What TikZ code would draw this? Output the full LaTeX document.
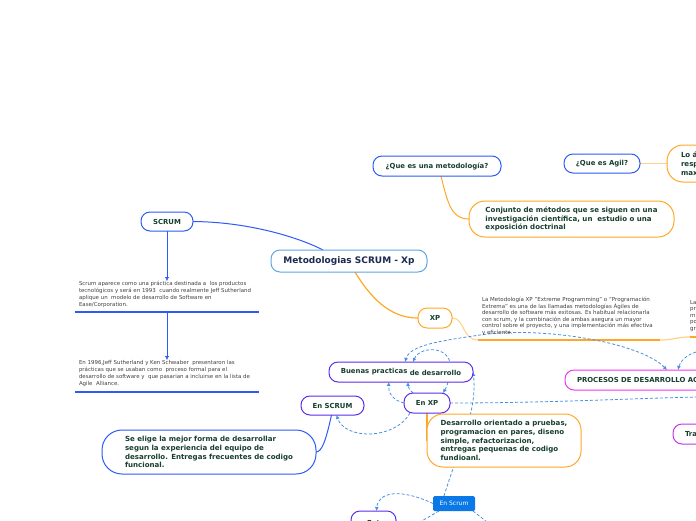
\documentclass[tikz,border=0pt]{standalone}
\usepackage{fontspec}
\setmainfont{DejaVu Sans}
\usetikzlibrary{arrows.meta,backgrounds}
\definecolor{mapblue}{HTML}{2D5BF5}
\definecolor{rootblue}{HTML}{5AA6E6}
\definecolor{maporange}{HTML}{FFA726}
\definecolor{lightorange}{HTML}{FFD08A}
\definecolor{mapviolet}{HTML}{5B2EEB}
\definecolor{mapmagenta}{HTML}{F035F0}
\definecolor{dashblue}{HTML}{4A90E2}
\definecolor{inkgreen}{HTML}{173F2E}
\definecolor{inknavy}{HTML}{1B2B50}
\definecolor{scrumfill}{HTML}{0A78E6}
\begin{document}
\begin{tikzpicture}[x=1pt,y=-1pt,
  every node/.style={inner sep=0pt,outer sep=0pt},
  topic/.style={draw,fill=white,line width=1pt,rounded corners=9pt,text=inkgreen,
    font=\bfseries\fontsize{6.9}{8.8}\selectfont},
  bigtopic/.style={topic,rounded corners=16pt,align=left,font=\bfseries\fontsize{7.05}{8.8}\selectfont},
  note/.style={anchor=north west,align=left,text=black!75,font=\fontsize{5.45}{7.2}\selectfont},
  link/.style={dashblue,line width=0.8pt,dash pattern=on 3pt off 2pt},
  >={Latex[length=4pt,width=4pt]}]
\useasboundingbox (0,0) rectangle (696,520);
\clip (0,0) rectangle (696,520);

% main topics
\node[topic,draw=rootblue,minimum width=156pt,minimum height=22pt,text=inknavy,
  font=\bfseries\fontsize{9}{10}\selectfont] (root) at (349,261) {Metodologias SCRUM - Xp};
\node[topic,draw=mapblue,minimum width=128pt,minimum height=20pt] (metod) at (437,166) {¿Que es una metodología?};
\node[topic,draw=mapblue,minimum width=76pt,minimum height=19pt] (agil) at (602,163.5) {¿Que es Agil?};
\node[bigtopic,draw=maporange,anchor=west,minimum width=80pt,minimum height=37pt,text width=52pt] (agildef) at (667,163.5) {Lo á\\resp\\max};
\node[bigtopic,draw=maporange,minimum width=205pt,minimum height=36pt] (conj) at (571.5,219)
  {Conjunto de métodos que se siguen en una\\investigación científica, un\ \ estudio o una\\exposición doctrinal};

% scrum history
\node[topic,draw=mapblue,minimum width=52pt,minimum height=19pt] (scrum) at (167,221.5) {SCRUM};
\node[note] (hist1) at (79,281) {Scrum aparece como una práctica destinada a\ \ los productos\\tecnológicos y será en 1993\ \ cuando realmente Jeff Sutherland\\aplique un\ \ modelo de desarrollo de Software en\\Ease/Corporation.};
\node[note] (hist2) at (79,360) {En 1996,Jeff Sutherland y Ken Schwaber\ \ presentaron las\\prácticas que se usaban como\ \ proceso formal para el\\desarrollo de software y\ \ que pasarian a incluirse en la lista de\\Agile\ \ Alliance.};
\coordinate (hist1top) at (167,281);
\coordinate (hist1bot) at (167,313);
\coordinate (hist2top) at (167,360);

% xp
\node[topic,draw=maporange,minimum width=34pt,minimum height=20pt] (xp) at (435,318) {XP};
\node[note,font=\fontsize{5.5}{6.6}\selectfont] (xpdef) at (482,297) {La Metodología XP "Extreme Programming" o "Programación\\Extrema" es una de las llamadas metodologías Ágiles de\\desarrollo de software más exitosas. Es habitual relacionarla\\con scrum, y la combinación de ambas asegura un mayor\\control sobre el proyecto, y una implementación más efectiva\\y eficiente.};
\node[note,font=\fontsize{5.5}{6.6}\selectfont] (procdef) at (690,300) {La\\pr\\m\\po\\gr};
\coordinate (xpa) at (478,340);
\coordinate (xpb) at (660,340);
\coordinate (xpc) at (690,337);
\coordinate (xpd) at (700,337);

% buenas practicas
\node[topic,draw=mapviolet,minimum width=144pt,minimum height=20pt] (buenas) at (401,372) {Buenas practicas \raisebox{-1.2pt}{de desarrollo}};
\node[topic,draw=mapviolet,minimum width=46pt,minimum height=20pt] (enxp) at (427,403) {En XP};
\node[topic,draw=mapviolet,minimum width=63pt,minimum height=19pt] (enscrum) at (332.5,405.5) {En SCRUM};
\node[bigtopic,draw=mapblue,minimum width=214pt,minimum height=44pt,rounded corners=20pt] (elige) at (209,452)
  {Se elige la mejor forma de desarrollar\\segun la experiencia del equipo de\\desarrollo. Entregas frecuentes de codigo\\funcional.};
\node[bigtopic,draw=maporange,minimum width=154pt,minimum height=53pt] (tdd) at (504,440.5)
  {Desarrollo orientado a pruebas,\\programacion en pares, diseno\\simple, refactorizacion,\\entregas pequenas de codigo\\fundioanl.};
\node[topic,draw=mapmagenta,anchor=west,minimum width=200pt,minimum height=20pt,text width=176pt,align=left] (procesos) at (565,380) {PROCESOS DE DESARROLLO AGILES};
\node[topic,draw=mapmagenta!70!mapviolet,anchor=west,minimum width=60pt,minimum height=20pt,text width=36pt,align=left] (trad) at (673,434) {Tra};
\node[fill=scrumfill,text=white,rounded corners=1.5pt,minimum width=42pt,minimum height=15pt,
  font=\fontsize{6}{7}\selectfont] (enscrumb) at (454,503.5) {En Scrum};
\node[topic,draw=mapviolet,anchor=north west,minimum width=45pt,minimum height=24pt] (entb) at (351,511) {Ent};

\begin{pgfonlayer}{background}
% solid branches
\draw[mapblue,line width=1pt] (scrum.east) .. controls (250,222) and (300,238) .. ([xshift=-26pt]root.north);
\draw[maporange,line width=1pt] ([xshift=4pt]metod.south) .. controls (448,205) and (452,219) .. (conj.west);
\draw[lightorange,line width=1.5pt] (agil.east) -- (agildef.west);
\draw[maporange,line width=1.2pt] ([xshift=6pt]root.south) .. controls (375,305) and (395,318) .. (xp.west);
\draw[lightorange,line width=1pt] (xp.east) .. controls (465,318) and (462,340) .. (xpa);
\draw[maporange,line width=2pt] (xpa) -- (xpb);
\draw[lightorange,line width=1.2pt] (xpb) .. controls (675,340) and (675,337) .. (xpc);
\draw[maporange,line width=2pt] (xpc) -- (xpd);
\draw[mapblue,->] (scrum.south) -- (hist1top);
\draw[mapblue,line width=1.6pt] (75,312) -- (259,312);
\draw[mapblue,->] (hist1bot) -- (hist2top);
\draw[mapblue,line width=1.6pt] (75,392) -- (259,392);
\draw[mapblue,line width=1pt] ([xshift=-1pt]enscrum.south) .. controls (326,440) and (322,452) .. (elige.east);
\draw[maporange,line width=1.2pt] (enxp.south) -- (tdd.west);
% dashed relations
\draw[link,<->] ([xshift=102pt]procesos.north west) .. controls (640,342) and (540,326) .. (480,335)
  .. controls (440,341) and (410,345) .. ([xshift=4pt]buenas.north);
\draw[link,->] (696,352) .. controls (686,355) and (680,362) .. ([xshift=113pt]procesos.north west);
\draw[link,<->] ([xshift=12pt]buenas.north) .. controls (420,345) and (455,345) .. (450,372)
  .. controls (448,385) and (446,388) .. ([xshift=16pt]enxp.north);
\draw[link,->] (enxp.west) .. controls (392,400) and (388,392) .. ([xshift=-12pt]buenas.south);
\draw[link,->] ([xshift=-14pt]enxp.north) .. controls (410,390) and (408,388) .. ([xshift=7pt]buenas.south);
\draw[link] (enxp.east) .. controls (550,403) and (640,398) .. (700,397);
\draw[link,->] ([xshift=-10pt]enscrumb.north) .. controls (458,450) and (478,410) .. (buenas.east);
\draw[link,->] (enscrumb.west) .. controls (400,488) and (378,492) .. ([xshift=3pt]entb.north);
\draw[link] ([xshift=-15pt]enscrumb.south) -- (420,522);
\draw[link] ([xshift=19pt]enscrumb.south) -- (487,522);
\draw[link,->] ([xshift=-17pt]enxp.south) .. controls (395,440) and (345,440) .. ([xshift=4pt]enscrum.south);
\end{pgfonlayer}
\end{tikzpicture}
\end{document}
